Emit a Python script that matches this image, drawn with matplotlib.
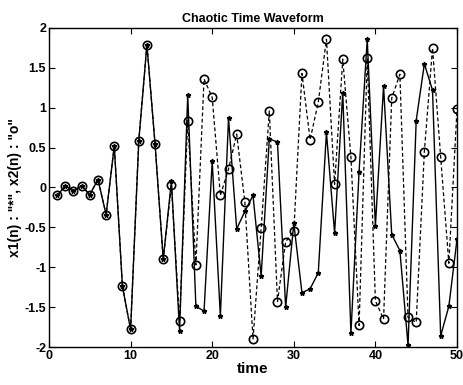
import matplotlib
matplotlib.use("Agg")
import matplotlib.pyplot as plt
import numpy as np

n = list(range(1, 51))
x1 = [-0.10, 0.02, -0.04, 0.02, -0.09, 0.10, -0.34, 0.52, -1.24, -1.78,
      0.58, 1.79, 0.54, -0.90, 0.08, -1.80, 1.16, -1.49, -1.55, 0.33,
      -1.61, 0.87, -0.52, -0.30, -0.10, -1.11, 0.61, 0.57, -1.50, -0.45,
      -1.32, -1.27, -1.07, 0.69, -0.57, 1.19, -1.83, 0.20, 1.86, -0.48,
      1.27, -0.59, -0.79, -1.98, 0.84, 1.55, 1.22, -1.86, -1.49, -0.65]
x2 = [-0.10, 0.02, -0.04, 0.02, -0.09, 0.10, -0.34, 0.52, -1.24, -1.78,
      0.58, 1.79, 0.54, -0.90, 0.03, -1.68, 0.84, -0.97, 1.36, 1.13,
      -0.10, 0.23, 0.67, -0.18, -1.90, -0.51, 0.96, -1.43, -0.68, -0.55,
      1.43, 0.60, 1.07, 1.86, 0.04, 1.61, 0.38, -1.73, 1.62, -1.42,
      -1.65, 1.12, 1.42, -1.63, -1.69, 0.45, 1.75, 0.38, -0.95, 0.98]

xticks = [0, 10, 20, 30, 40, 50]
yticks = [-2, -1.5, -1, -0.5, 0, 0.5, 1, 1.5, 2]
ytick_labels = ["-2", "-1.5", "-1", "-0.5", "0", "0.5", "1", "1.5", "2"]

plt.rcParams['font.family'] = ['Liberation Sans', 'DejaVu Sans']
fig = plt.figure(figsize=(4.63, 3.85), dpi=100)
ax = fig.add_axes([49/463, 1-347/385, (457-49)/463, (347-28)/385])

ax.plot(n, x1, '-', color='black', lw=1.0, marker='*', markersize=3.5)
ax.plot(n, x2, '--', color='black', lw=0.9, marker='o', markersize=6,
        markerfacecolor='none', markeredgewidth=1.2, dashes=(3, 2))

ax.set_xlim(0, 50)
ax.set_ylim(-2, 2)
ax.set_xticks(xticks)
ax.set_yticks(yticks)
ax.set_yticklabels(ytick_labels)
ax.tick_params(direction='in', top=True, right=True, length=4, width=0.8,
               labelsize=9, pad=2)
for lab in ax.get_xticklabels() + ax.get_yticklabels():
    lab.set_fontweight('bold')
for s in ax.spines.values():
    s.set_linewidth(1.0)

ax.set_title('Chaotic Time Waveform', fontsize=9, fontweight='bold', pad=4)
ax.set_xlabel('time', fontsize=11, fontweight='bold', labelpad=0)
ax.set_ylabel('x1(n) : "*", x2(n) : "o"', fontsize=10, fontweight='bold', labelpad=2)

fig.savefig('out.png', dpi=100)
